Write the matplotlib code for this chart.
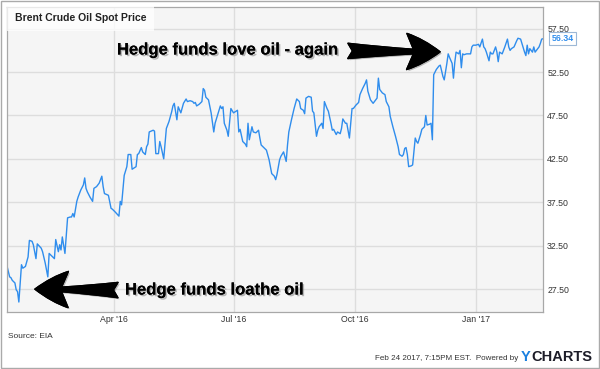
import matplotlib
matplotlib.use("Agg")
import matplotlib.pyplot as plt
import matplotlib.patheffects as pe
from matplotlib.patches import Rectangle
import pandas as pd

plt.rcParams['font.family'] = ['Liberation Sans', 'DejaVu Sans']

# days since 2016-01-01
day = [10, 12, 13, 14, 16, 17, 18, 19, 21, 22, 24, 26, 27, 29, 30, 32, 33, 36, 37, 39,
       41, 42, 44, 46, 47, 49, 50, 51, 52, 54, 56, 58, 59, 60, 61, 63, 64, 66, 68, 69,
       70, 71, 73, 75, 76, 78, 80, 82, 83, 84, 87, 89, 90, 92, 95, 96, 97, 99, 101, 102,
       104, 105, 108, 109, 110, 112, 113, 115, 116, 117, 118, 121, 122, 123, 125, 126, 127, 129, 131, 133,
       135, 136, 137, 139, 140, 142, 144, 146, 147, 149, 151, 152, 153, 154, 156, 158, 159, 160, 161, 163,
       165, 167, 168, 170, 172, 173, 174, 175, 177, 178, 180, 182, 184, 185, 186, 187, 189, 191, 192, 193,
       194, 196, 197, 199, 201, 202, 203, 205, 207, 209, 211, 213, 214, 215, 217, 218, 220, 222, 223, 224,
       226, 228, 230, 232, 233, 235, 236, 237, 239, 241, 242, 243, 245, 246, 247, 249, 250, 251, 253, 254,
       256, 257, 258, 260, 261, 263, 264, 265, 267, 268, 270, 272, 273, 275, 277, 278, 280, 282, 283, 284,
       286, 288, 289, 291, 292, 293, 295, 297, 298, 300, 301, 303, 305, 307, 308, 310, 311, 312, 313, 314,
       315, 317, 318, 320, 321, 322, 324, 325, 327, 328, 329, 331, 332, 333, 334, 336, 338, 339, 341, 342,
       344, 345, 346, 348, 349, 350, 351, 353, 354, 355, 356, 357, 359, 362, 363, 364, 366, 368, 369, 371,
       372, 373, 374, 376, 377, 378, 379, 381, 382, 383, 384, 386, 387, 388, 390, 391, 392, 393, 395, 397,
       398, 400, 401, 403, 404, 405, 406, 407, 409, 410, 411, 412, 414, 415, 416, 417]

price = [30.15, 28.9, 28.8, 28.5, 28.2, 27.4, 27.2, 26.0, 30.3, 29.9, 30.1, 31.2, 33.1, 33.0, 32.6, 31.0, 32.7, 32.2, 31.8, 30.5,
         28.9, 31.6, 31.3, 31.0, 33.2, 31.8, 32.6, 32.0, 33.5, 31.6, 35.7, 35.8, 35.8, 36.2, 35.8, 37.6, 38.1, 38.9, 39.5, 40.3,
         39.1, 38.7, 38.1, 37.6, 39.1, 39.3, 39.7, 40.5, 39.3, 38.5, 38.3, 36.8, 36.7, 36.4, 35.9, 37.6, 37.2, 40.6, 41.6, 43.0,
         43.0, 41.3, 41.6, 43.0, 43.1, 43.8, 43.3, 43.0, 43.9, 44.2, 45.6, 45.8, 45.7, 43.1, 43.1, 44.5, 43.9, 42.5, 46.0, 46.8,
         47.9, 48.6, 48.9, 47.0, 48.5, 47.8, 48.9, 49.4, 49.1, 49.2, 49.1, 48.9, 49.0, 48.6, 48.8, 49.1, 50.6, 50.4, 49.6, 49.3,
         47.8, 45.6, 46.6, 47.6, 48.6, 48.3, 48.5, 46.6, 45.8, 45.1, 48.3, 47.8, 48.0, 48.1, 45.6, 45.9, 44.5, 44.2, 43.9, 46.6,
         44.7, 46.2, 45.6, 45.5, 45.8, 44.9, 44.1, 43.8, 43.5, 42.4, 40.8, 40.5, 40.1, 40.7, 42.4, 42.8, 43.3, 42.2, 44.1, 45.6,
         47.0, 48.3, 49.4, 49.1, 48.3, 48.1, 47.7, 49.5, 49.7, 49.6, 48.0, 47.8, 45.1, 45.8, 46.2, 46.6, 46.0, 49.1, 48.3, 48.0,
         46.6, 45.8, 45.9, 45.3, 45.6, 45.4, 46.0, 47.1, 46.6, 46.6, 44.9, 48.3, 48.3, 48.7, 49.0, 49.9, 50.6, 51.2, 51.6, 50.3,
         49.3, 48.9, 49.1, 49.5, 51.8, 50.5, 50.1, 49.9, 49.1, 48.5, 47.4, 46.2, 45.1, 43.9, 43.0, 42.8, 43.0, 43.7, 43.8, 43.0,
         41.6, 41.7, 41.8, 44.9, 44.5, 44.3, 45.3, 45.9, 46.2, 47.5, 46.4, 46.5, 46.6, 44.7, 52.2, 52.8, 53.2, 53.3, 52.0, 51.6,
         53.5, 54.6, 54.2, 53.5, 51.8, 53.6, 54.8, 54.6, 55.0, 53.0, 54.6, 54.5, 54.6, 54.6, 55.4, 55.6, 55.6, 55.7, 55.4, 56.3,
         55.4, 55.2, 54.8, 53.8, 54.8, 54.6, 54.6, 55.4, 54.8, 53.7, 54.8, 54.6, 55.0, 55.4, 56.3, 55.4, 55.0, 55.2, 55.4, 56.1,
         56.4, 56.3, 55.8, 54.8, 54.4, 55.6, 54.6, 55.2, 54.8, 55.4, 54.8, 55.0, 55.4, 55.8, 56.3, 56.34]

yticks = [27.5, 32.5, 37.5, 42.5, 47.5, 52.5, 57.5]
xtick_dates = ['2016-04-01', '2016-07-01', '2016-10-01', '2017-01-01']
xtick_labels = ["Apr '16", "Jul '16", "Oct '16", "Jan '17"]

dates = pd.Timestamp('2016-01-01') + pd.to_timedelta(day, unit='D')

fig = plt.figure(figsize=(6, 3.69), dpi=100)
ax = fig.add_axes([7/600, 1 - 312/369, 536/600, 305/369])
ax.set_facecolor('#f5f5f5')

ax.plot(dates, price, color='#2f8ded', lw=1.0)

ax.set_xlim(dates[0], dates[-1])
ax.set_ylim(24.85, 60.0)
ax.set_yticks(yticks)
ax.set_yticklabels(['%.2f' % v for v in yticks])
ax.set_xticks(pd.to_datetime(xtick_dates))
ax.set_xticklabels(xtick_labels)
ax.yaxis.tick_right()
ax.tick_params(axis='both', length=0, labelsize=6.3, colors='#333333')
ax.tick_params(axis='y', pad=3)
ax.tick_params(axis='x', pad=2.5)
ax.grid(True, color='#dddddd', lw=1.0)
ax.set_axisbelow(True)
for s in ax.spines.values():
    s.set_color('#a8a8a8')
    s.set_linewidth(0.9)

ax.text(0.015, 0.963, 'Brent Crude Oil Spot Price', transform=ax.transAxes,
        fontsize=7.5, fontweight='bold', color='#222222', va='center', ha='left',
        bbox=dict(boxstyle='square,pad=0.75', facecolor='white', edgecolor='none', alpha=0.75))

# last value tag
ax.annotate('%.2f' % price[-1], xy=(1, price[-1]), xycoords=('axes fraction', 'data'),
            xytext=(6, 0), textcoords='offset points', va='center', ha='left',
            fontsize=6.3, fontweight='bold', color='#2f8ded',
            bbox=dict(boxstyle='square,pad=0.25', facecolor='white', edgecolor='#9db8d6', lw=0.8),
            annotation_clip=False)

shadow = [pe.withSimplePatchShadow(offset=(1.2, -1.2), shadow_rgbFace='#777777', alpha=0.5), pe.Normal()]

ax.text(0.205, 0.859, 'Hedge funds love oil - again', transform=ax.transAxes,
        fontsize=12, fontweight='bold', color='black', va='center', ha='left', path_effects=shadow)
ax.text(0.220, 0.072, 'Hedge funds loathe oil', transform=ax.transAxes,
        fontsize=12, fontweight='bold', color='black', va='center', ha='left', path_effects=shadow)

arrow = dict(arrowstyle='fancy,head_length=1.2,head_width=1.3,tail_width=0.55',
             mutation_scale=20, color='black', shrinkA=0, shrinkB=0, path_effects=shadow)
ax.annotate('', xy=(0.808, 0.853), xytext=(0.636, 0.856), xycoords='axes fraction',
            arrowprops=arrow)
ax.annotate('', xy=(0.052, 0.075), xytext=(0.207, 0.072), xycoords='axes fraction',
            arrowprops=arrow)

# footer
fig.text(8/600, 1 - 337/369, 'Source: EIA', fontsize=6, color='#333333', va='center')
fig.text(518/600, 1 - 358/369, 'Feb 24 2017, 7:15PM EST.  Powered by', fontsize=5.8,
         color='#333333', va='center', ha='right')
fig.text(521/600, 1 - 357/369, 'Y', fontsize=10.5, fontweight='bold', color='#1a80e0', va='center')
fig.text(531/600, 1 - 357/369, 'CHARTS', fontsize=10.5, fontweight='bold', color='#1c1c28', va='center')

fig.patches.append(Rectangle((0.002, 0.003), 0.996, 0.994, transform=fig.transFigure,
                             fill=False, edgecolor='#aaaaaa', lw=1.0))

fig.savefig('out.png', dpi=100)
